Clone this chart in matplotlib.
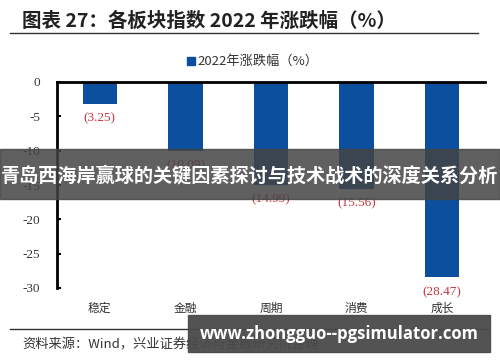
import matplotlib
matplotlib.use("Agg")
import matplotlib.pyplot as plt
from matplotlib.patches import Rectangle
from matplotlib.lines import Line2D

plt.rcParams['font.family'] = ['Noto Sans CJK SC', 'DejaVu Sans']

categories = ["稳定", "金融", "周期", "消费", "成长"]
values = [-3.25, -10.09, -14.99, -15.56, -28.47]
yticks = [0, -5, -10, -15, -20, -25, -30]
series_name = "2022年涨跌幅（%）"
title = "图表 27：各板块指数 2022 年涨跌幅（%）"
source = "资料来源：Wind，兴业证券经济与金融研究院整理"
banner1 = "青岛西海岸赢球的关键因素探讨与技术战术的深度关系分析"
banner2 = "www.zhongguo--pgsimulator.com"

W, H = 500, 362
fig = plt.figure(figsize=(5, 3.62), dpi=100)

def fx(px):
    return px / W

def fy(py):
    return 1 - py / H

ax = fig.add_axes([fx(57), fy(288), fx(485) - fx(57), fy(82) - fy(288)])
bar_color = "#0B4F9E"
x = list(range(len(categories)))
ax.bar(x, values, width=0.4, color=bar_color, zorder=2)
ax.set_xlim(-0.5, len(categories) - 0.5)
ax.set_ylim(-30, 0)
ax.set_yticks(yticks)
ax.set_yticklabels([str(v) for v in yticks], family="Liberation Serif", fontsize=9.5, color="#333333")
ax.tick_params(axis="y", direction="in", length=3, width=1.5, pad=12)
ax.set_xticks(x)
ax.set_xticklabels(categories, fontsize=8.5, color="#333333")
ax.tick_params(axis="x", length=0, pad=10)
for s in ["right", "bottom"]:
    ax.spines[s].set_visible(False)
ax.spines["left"].set_linewidth(2)
ax.spines["top"].set_linewidth(2)

for xi, v in zip(x, values):
    ax.annotate(f"({abs(v):.2f})", (xi, v), xytext=(0, -6), textcoords="offset points",
                ha="center", va="top", fontsize=9.5, color="#C8383D", family="Liberation Serif")

# title and rules
fig.text(fx(22), fy(21), title, fontsize=14, fontweight="bold", color="#222222", va="center", ha="left")
fig.add_artist(Line2D([fx(10), fx(478)], [fy(33), fy(33)], color="#333333", lw=1))
fig.add_artist(Line2D([fx(10), fx(488)], [fy(329), fy(329)], color="#333333", lw=1))
fig.text(fx(22), fy(345), source, fontsize=9.5, color="#333333", va="center", ha="left")

# legend
fig.add_artist(Rectangle((fx(187), fy(65)), fx(8), fy(57) - fy(65), color=bar_color, transform=fig.transFigure))
fig.text(fx(197), fy(61), series_name, fontsize=9.5, color="#333333", va="center", ha="left")

# overlay banners
fig.add_artist(Rectangle((0, fy(199)), 1, fy(149) - fy(199), color="#444444", alpha=0.85,
                         transform=fig.transFigure, zorder=5))
fig.text(0.5, fy(176), banner1, fontsize=13.8, fontweight="bold", color="white",
         ha="center", va="center", zorder=6)
fig.add_artist(Rectangle((fx(188), fy(352)), fx(490) - fx(188), fy(315) - fy(352), color="#4a4a4a",
                         alpha=0.95, transform=fig.transFigure, zorder=5))
fig.text(fx(339), fy(334), banner2, fontsize=12, fontweight="bold", color="white",
         ha="center", va="center", zorder=6, family=["Open Sans", "DejaVu Sans"])

fig.savefig("out.png", dpi=100)
